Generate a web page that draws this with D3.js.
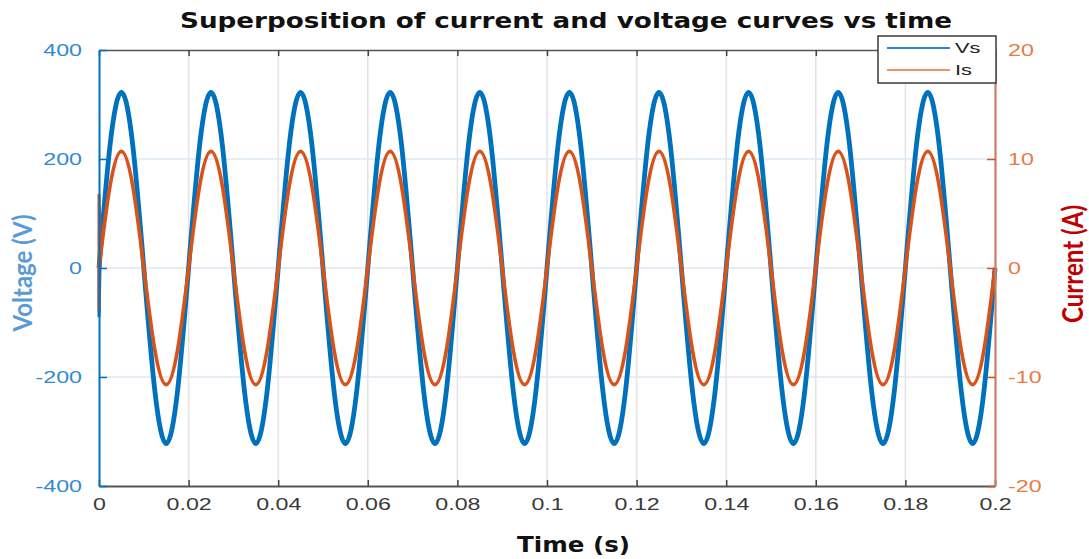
<!DOCTYPE html>
<html><head><meta charset="utf-8">
<script src="https://cdn.jsdelivr.net/npm/d3@7"></script>
<style>body{margin:0;background:#fff}svg{display:block}</style>
</head><body>
<svg id="c" width="1089" height="559"></svg>
<script>
// ---- data ----
const sampleStep = 0.0025; // s between samples
const voltage = [
 0,228,322,228,0,-228,-322,-228,
 0,228,322,228,0,-228,-322,-228,
 0,228,322,228,0,-228,-322,-228,
 0,228,322,228,0,-228,-322,-228,
 0,228,322,228,0,-228,-322,-228,
 0,228,322,228,0,-228,-322,-228,
 0,228,322,228,0,-228,-322,-228,
 0,228,322,228,0,-228,-322,-228,
 0,228,322,228,0,-228,-322,-228,
 0,228,322,228,0,-228,-322,-228,
 0];
const current = [
 0,7.6,10.7,7.6,0,-7.6,-10.7,-7.6,
 0,7.6,10.7,7.6,0,-7.6,-10.7,-7.6,
 0,7.6,10.7,7.6,0,-7.6,-10.7,-7.6,
 0,7.6,10.7,7.6,0,-7.6,-10.7,-7.6,
 0,7.6,10.7,7.6,0,-7.6,-10.7,-7.6,
 0,7.6,10.7,7.6,0,-7.6,-10.7,-7.6,
 0,7.6,10.7,7.6,0,-7.6,-10.7,-7.6,
 0,7.6,10.7,7.6,0,-7.6,-10.7,-7.6,
 0,7.6,10.7,7.6,0,-7.6,-10.7,-7.6,
 0,7.6,10.7,7.6,0,-7.6,-10.7,-7.6,
 0];
// start-up transient at t = 0
const startTime = [0, 0, 0.0003];
const startVoltage = [0, -90, 30];
const startCurrent = [-4, 6.8, 1.5];

const xTicks = [0,0.02,0.04,0.06,0.08,0.1,0.12,0.14,0.16,0.18,0.2];
const vTicks = [-400,-200,0,200,400];
const iTicks = [-20,-10,0,10,20];
const seriesNames = ["Vs","Is"];

// ---- layout ----
const L = 99, R = 995, T = 50, B = 486;
const svg = d3.select("#c");
const x = d3.scaleLinear().domain([0,0.2]).range([L,R]);
const yV = d3.scaleLinear().domain([-400,400]).range([B,T]);
const yI = d3.scaleLinear().domain([-20,20]).range([B,T]);
const SX = 1.45;
const fmtY = d => String(d);

function stretch(sel, f){
  sel.each(function(){
    const w = this.getComputedTextLength();
    d3.select(this).attr("textLength", w*f).attr("lengthAdjust","spacingAndGlyphs");
  });
}

// grid
svg.append("g").selectAll("line").data(xTicks.slice(1,-1)).join("line")
  .attr("x1",d=>x(d)).attr("x2",d=>x(d)).attr("y1",T).attr("y2",B)
  .attr("stroke","#e3e3e3").attr("stroke-width",1.5);
svg.append("g").selectAll("line").data(vTicks.slice(1,-1)).join("line")
  .attr("x1",L).attr("x2",R).attr("y1",d=>yV(d)).attr("y2",d=>yV(d))
  .attr("stroke","#dde9f4").attr("stroke-width",1.5);

// curves
const idx = d3.range(voltage.length);
const lineV = d3.line().x(i=>x(i*sampleStep)).y(i=>yV(voltage[i])).curve(d3.curveNatural);
const lineI = d3.line().x(i=>x(i*sampleStep)).y(i=>yI(current[i])).curve(d3.curveNatural);
const sIdx = d3.range(startTime.length);
svg.append("path").attr("d", d3.line().x(i=>x(startTime[i])).y(i=>yV(startVoltage[i]))(sIdx))
  .attr("fill","none").attr("stroke","#0072BD").attr("stroke-width",3);
svg.append("path").attr("d", lineV(idx)).attr("fill","none")
  .attr("stroke","#0072BD").attr("stroke-width",4.8).attr("stroke-linejoin","round");
svg.append("path").attr("d", d3.line().x(i=>x(startTime[i])).y(i=>yI(startCurrent[i]))(sIdx))
  .attr("fill","none").attr("stroke","#D95319").attr("stroke-width",3);
svg.append("path").attr("d", lineI(idx)).attr("fill","none")
  .attr("stroke","#D95319").attr("stroke-width",3.6).attr("stroke-linejoin","round");

// axes
const fmtX = d => String(+d.toFixed(2));
const gx = svg.append("g").attr("transform",`translate(0,${B})`)
  .call(d3.axisBottom(x).tickValues(xTicks).tickFormat(fmtX).tickSizeInner(-6).tickSizeOuter(0).tickPadding(14));
gx.select(".domain").attr("stroke","#555").attr("stroke-width",2);
gx.selectAll(".tick line").attr("stroke","#444").attr("stroke-width",1.5);
gx.selectAll("text").attr("fill","#3a3a3a").attr("font-family","Liberation Sans, Arial, sans-serif").attr("font-size",16).attr("dy","0.6em").attr("y",14);

const gt = svg.append("g").attr("transform",`translate(0,${T})`)
  .call(d3.axisTop(x).tickValues(xTicks).tickFormat("").tickSizeInner(-6).tickSizeOuter(0));
gt.select(".domain").attr("stroke","#555").attr("stroke-width",1.5);
gt.selectAll(".tick line").attr("stroke","#444").attr("stroke-width",1.5);

const gl = svg.append("g").attr("transform",`translate(${L},0)`)
  .call(d3.axisLeft(yV).tickValues(vTicks).tickFormat(fmtY).tickSizeInner(-8).tickSizeOuter(0).tickPadding(17));
gl.select(".domain").attr("stroke","#0072BD").attr("stroke-width",2);
gl.selectAll(".tick line").attr("stroke","#0072BD").attr("stroke-width",1.5);
gl.selectAll("text").attr("fill","#2f8ad3").attr("font-family","Liberation Sans, Arial, sans-serif").attr("font-size",16);

const gr = svg.append("g").attr("transform",`translate(${R},0)`)
  .call(d3.axisRight(yI).tickValues(iTicks).tickFormat(fmtY).tickSizeInner(-8).tickSizeOuter(0).tickPadding(13));
gr.select(".domain").attr("stroke","#c47e66").attr("stroke-width",2.2);
gr.selectAll(".tick line").attr("stroke","#D95319").attr("stroke-width",1.5);
gr.selectAll("text").attr("fill","#e77a45").attr("font-family","Liberation Sans, Arial, sans-serif").attr("font-size",16);

[gx,gl,gr].forEach(g=>stretch(g.selectAll("text"),SX));

// title and labels
svg.append("text").attr("x",180).attr("y",28)
  .attr("font-family","DejaVu Sans, Verdana, sans-serif").attr("font-weight","bold").attr("font-size",21)
  .attr("fill","#111").text("Superposition of current and voltage curves vs time")
  .attr("textLength",772).attr("lengthAdjust","spacingAndGlyphs");
svg.append("text").attr("x",517).attr("y",552)
  .attr("font-family","DejaVu Sans, Verdana, sans-serif").attr("font-weight","bold").attr("font-size",22)
  .attr("fill","#111").text("Time (s)")
  .attr("textLength",113).attr("lengthAdjust","spacingAndGlyphs");
svg.append("text").attr("transform",`translate(32,273) scale(${SX},1) rotate(-90)`)
  .attr("text-anchor","middle").attr("font-family","Lato, sans-serif").attr("font-weight","bold")
  .attr("font-size",19).attr("fill","#5b9bd5").text("Voltage (V)")
  .attr("textLength",117).attr("lengthAdjust","spacingAndGlyphs");
svg.append("text").attr("transform",`translate(1083,264) scale(${SX},1) rotate(-90)`)
  .attr("text-anchor","middle").attr("font-family","Lato, sans-serif").attr("font-weight","bold")
  .attr("font-size",20).attr("fill","#c00000").text("Current (A)")
  .attr("textLength",118).attr("lengthAdjust","spacingAndGlyphs");

// legend
const lg = svg.append("g");
lg.append("rect").attr("x",878).attr("y",36).attr("width",118).attr("height",47)
  .attr("fill","#fff").attr("stroke","#3a3a3a").attr("stroke-width",1.5);
const legColors = ["#2a86cf","#eb9470"];
seriesNames.forEach((n,k)=>{
  const yy = 48 + k*22;
  lg.append("line").attr("x1",887).attr("x2",950).attr("y1",yy).attr("y2",yy)
    .attr("stroke",legColors[k]).attr("stroke-width",2);
  lg.append("text").attr("x",955).attr("y",yy).attr("dy","0.35em")
    .attr("font-family","Liberation Sans, Arial, sans-serif").attr("font-size",15)
    .attr("fill","#222").text(n);
});
stretch(lg.selectAll("text"),SX);
</script>
</body></html>
